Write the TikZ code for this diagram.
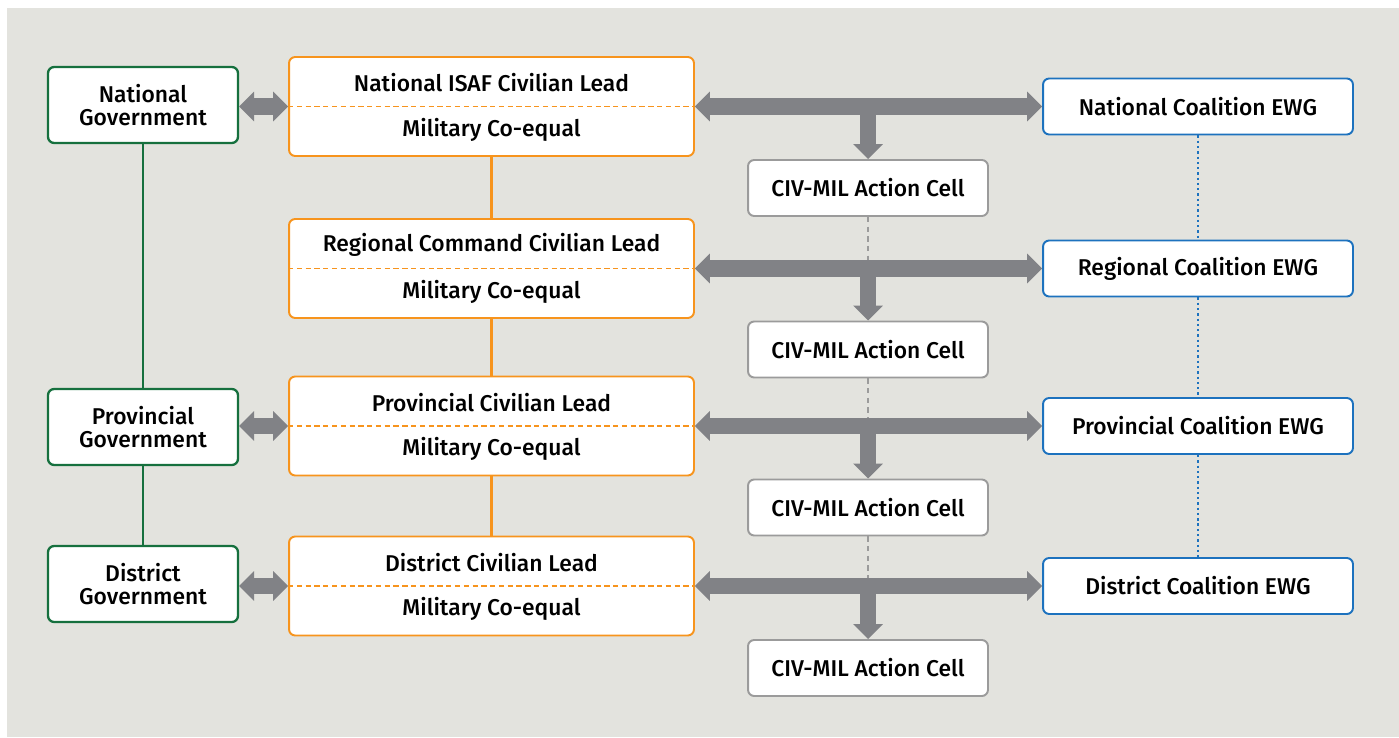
\documentclass[tikz,border=0pt]{standalone}
\usepackage{fontspec}
\setmainfont{Fira Sans}[UprightFont=* Medium]
\usetikzlibrary{arrows.meta,positioning}

\definecolor{bggray}{HTML}{E3E3DE}
\definecolor{govgreen}{HTML}{16703E}
\definecolor{leadorange}{HTML}{F7941D}
\definecolor{ewgblue}{HTML}{1D72BE}
\definecolor{arrowgray}{HTML}{818286}
\definecolor{cellgray}{HTML}{9B9B9B}

\tikzset{
	boxfont/.style={font=\fontsize{13}{13}\selectfont},
	govbox/.style={draw=govgreen, line width=1.3pt, rounded corners=3.5pt, fill=white,
		minimum width=3.8cm, minimum height=1.52cm, align=center, boxfont},
	leadbox/.style={draw=leadorange, line width=1.1pt, rounded corners=3.5pt, fill=white,
		minimum width=8.1cm, minimum height=1.98cm},
	cellbox/.style={draw=cellgray, line width=1.1pt, rounded corners=3.5pt, fill=white,
		minimum width=4.8cm, minimum height=1.12cm, boxfont},
	ewgbox/.style={draw=ewgblue, line width=1.1pt, rounded corners=3.5pt, fill=white,
		minimum width=6.2cm, minimum height=1.12cm, boxfont},
	govlink/.style={draw=govgreen, line width=1.3pt},
	leadlink/.style={draw=leadorange, line width=1.3pt},
	ewglink/.style={draw=ewgblue, line width=1.2pt, dash pattern=on 1.3pt off 1.7pt},
	celllink/.style={draw=cellgray, line width=1.1pt, dash pattern=on 3pt off 2.5pt},
	leadsep/.style={draw=leadorange, line width=0.9pt, dash pattern=on 3pt off 2pt},
	bigarrow/.style={draw=arrowgray, line width=0.33cm,
		{Triangle[length=0.3cm,width=0.58cm]}-{Triangle[length=0.3cm,width=0.58cm]}},
	downarrow/.style={draw=arrowgray, line width=0.32cm,
		-{Triangle[length=0.3cm,width=0.58cm]}},
}

\begin{document}
\begin{tikzpicture}[x=0.02cm,y=-0.02cm]

\useasboundingbox (0,0) rectangle (1399,737);
\fill[bggray] (7,8) rectangle (1399,737);

%Government column
\node [govbox] (natgov) at (143,105) {National\\Government};
\node [govbox] (provgov) at (143,427) {Provincial\\Government};
\node [govbox] (distgov) at (143,584) {District\\Government};

\draw[govlink] (natgov.south) -- (provgov.north);
\draw[govlink] (provgov.south) -- (distgov.north);

%Civilian lead column
\node [leadbox] (natlead) at (491.5,106.5) {};
\draw[leadsep] (natlead.west) -- (natlead.east);
\node [boxfont] (natciv) at (491.5,83) {National ISAF Civilian Lead};
\node [boxfont] (natmil) at (491.5,130) {Military Co-equal};

\node [leadbox] (reglead) at (491.5,268.5) {};
\draw[leadsep] (reglead.west) -- (reglead.east);
\node [boxfont] (regciv) at (491.5,245) {Regional Command Civilian Lead};
\node [boxfont] (regmil) at (491.5,292) {Military Co-equal};

\node [leadbox] (provlead) at (491.5,426) {};
\draw[leadsep] (provlead.west) -- (provlead.east);
\node [boxfont] (provciv) at (491.5,403) {Provincial Civilian Lead};
\node [boxfont] (provmil) at (491.5,449) {Military Co-equal};

\node [leadbox] (distlead) at (491.5,586) {};
\draw[leadsep] (distlead.west) -- (distlead.east);
\node [boxfont] (distciv) at (491.5,563) {District Civilian Lead};
\node [boxfont] (distmil) at (491.5,609) {Military Co-equal};

\draw[leadlink] (natlead.south) -- (reglead.north);
\draw[leadlink] (reglead.south) -- (provlead.north);
\draw[leadlink] (provlead.south) -- (distlead.north);

%Action cells
\node [cellbox] (natcell) at (868,188) {CIV-MIL Action Cell};
\node [cellbox] (regcell) at (868,349.5) {CIV-MIL Action Cell};
\node [cellbox] (provcell) at (868,507.5) {CIV-MIL Action Cell};
\node [cellbox] (distcell) at (868,668) {CIV-MIL Action Cell};

%Coalition EWGs
\node [ewgbox] (natewg) at (1198,106.5) {National Coalition EWG};
\node [ewgbox] (regewg) at (1198,268.5) {Regional Coalition EWG};
\node [ewgbox] (provewg) at (1198,426) {Provincial Coalition EWG};
\node [ewgbox] (distewg) at (1198,586) {District Coalition EWG};

\draw[ewglink] (natewg.south) -- (regewg.north);
\draw[ewglink] (regewg.south) -- (provewg.north);
\draw[ewglink] (provewg.south) -- (distewg.north);

%Joints on the bars
\coordinate (natjoin) at (natcell.north |- natlead.east);
\coordinate (regjoin) at (regcell.north |- reglead.east);
\coordinate (provjoin) at (provcell.north |- provlead.east);
\coordinate (distjoin) at (distcell.north |- distlead.east);

\draw[celllink] (natcell.south) -- (regjoin);
\draw[celllink] (regcell.south) -- (provjoin);
\draw[celllink] (provcell.south) -- (distjoin);

%Arrows
\draw[bigarrow] (natgov.east |- natlead.west) -- (natlead.west);
\draw[bigarrow] (provgov.east |- provlead.west) -- (provlead.west);
\draw[bigarrow] (distgov.east |- distlead.west) -- (distlead.west);

\draw[bigarrow] (natlead.east) -- (natewg.west);
\draw[bigarrow] (reglead.east) -- (regewg.west);
\draw[bigarrow] (provlead.east) -- (provewg.west);
\draw[bigarrow] (distlead.east) -- (distewg.west);

\draw[downarrow] (natjoin) -- (natcell.north);
\draw[downarrow] (regjoin) -- (regcell.north);
\draw[downarrow] (provjoin) -- (provcell.north);
\draw[downarrow] (distjoin) -- (distcell.north);

\end{tikzpicture}
\end{document}
